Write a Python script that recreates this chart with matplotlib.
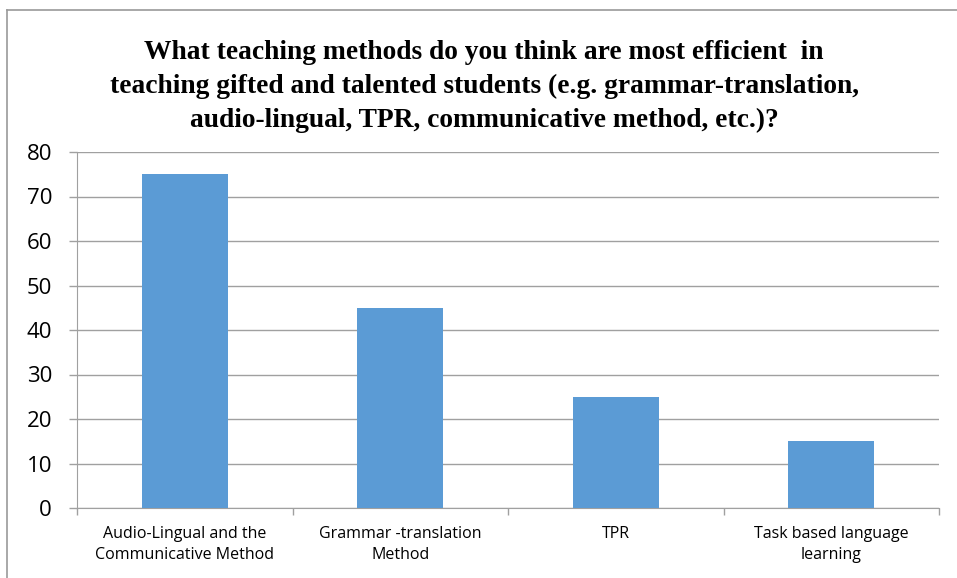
import matplotlib
matplotlib.use("Agg")
import matplotlib.pyplot as plt
from matplotlib.lines import Line2D

categories = ["Audio-Lingual and the\nCommunicative Method",
              "Grammar -translation\nMethod",
              "TPR",
              "Task based language\nlearning"]
values = [75, 45, 25, 15]
y_ticks = [0, 10, 20, 30, 40, 50, 60, 70, 80]
title = ("What teaching methods do you think are most efficient  in\n"
         "teaching gifted and talented students (e.g. grammar-translation,\n"
         "audio-lingual, TPR, communicative method, etc.)?")

W, H = 957, 578
PT = 72 / 100  # points per pixel at 100 dpi
fig = plt.figure(figsize=(W / 100, H / 100), dpi=100)
fig.patch.set_facecolor("white")

# chart frame (left and top edges visible)
frame_col = "#9a9a9a"
fig.add_artist(Line2D([7 / W, 7 / W], [0, 1 - 10 / H], transform=fig.transFigure,
                      color=frame_col, lw=1.2))
fig.add_artist(Line2D([7 / W, 1], [1 - 10 / H, 1 - 10 / H], transform=fig.transFigure,
                      color=frame_col, lw=1.2))

left, right = 77 / W, 939 / W
bottom, top = 1 - 508 / H, 1 - 152 / H
ax = fig.add_axes([left, bottom, right - left, top - bottom])

x = list(range(len(categories)))
ax.bar(x, values, width=0.4, color="#5b9bd5", zorder=3)
ax.set_xlim(-0.5, len(categories) - 0.5)
ax.set_ylim(0, 80)
ax.set_yticks(y_ticks)
ax.yaxis.grid(True, color="#a0a0a0", lw=1.0, zorder=0)

for s in ["top", "right"]:
    ax.spines[s].set_visible(False)
ax.spines["left"].set_color("#a0a0a0")
ax.spines["bottom"].set_color("#a0a0a0")

ax.tick_params(axis="y", length=8 * PT, width=1, color="#a0a0a0", pad=17 * PT,
               labelsize=16, labelcolor="black")
ax.set_yticklabels([str(v) for v in y_ticks], family="Open Sans")

# category ticks at the boundaries, labels centered under bars
ax.set_xticks([i - 0.5 for i in range(len(categories) + 1)])
ax.set_xticklabels([])
ax.tick_params(axis="x", length=7 * PT, width=1, color="#a0a0a0")
for i, c in enumerate(categories):
    ax.text(i, -4.0, c, ha="center", va="top", fontsize=11.5, family="Open Sans",
            linespacing=1.45)

fig.text(484 / W, 1 - 40 / H, title, ha="center", va="top", fontsize=19.8,
         fontweight="bold", family="Liberation Serif", linespacing=1.45)

fig.savefig("out.png", dpi=100)
